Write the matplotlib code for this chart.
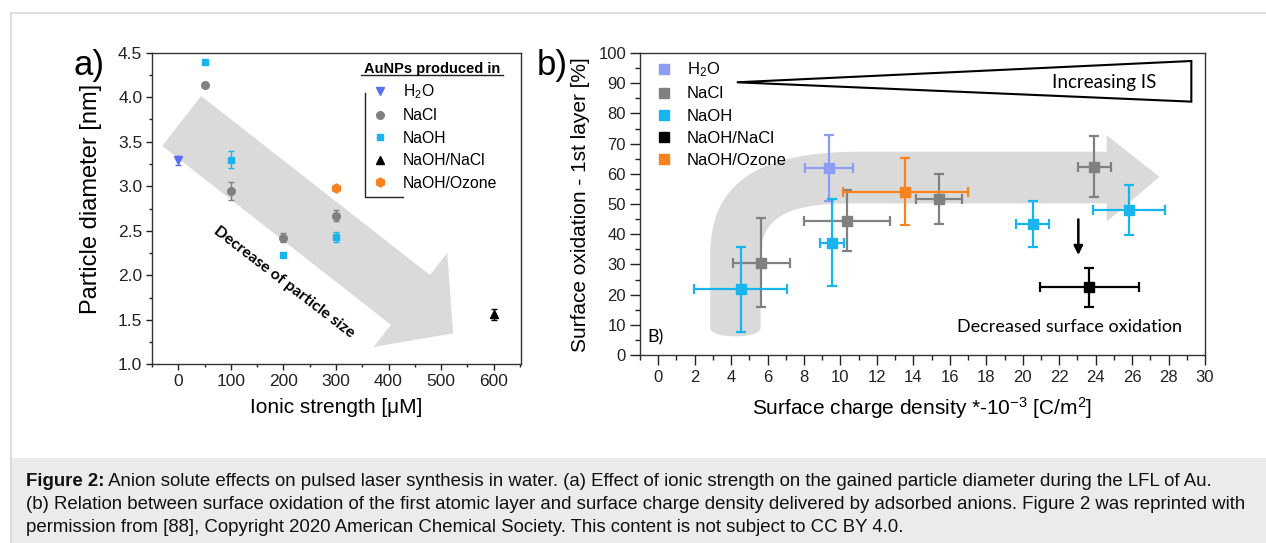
import matplotlib
matplotlib.use("Agg")
import matplotlib.pyplot as plt
from matplotlib.patches import FancyArrowPatch, PathPatch, Polygon, Rectangle
from matplotlib.path import Path
from matplotlib.lines import Line2D
from matplotlib.ticker import MultipleLocator

plt.rcParams['font.family'] = ['Liberation Sans', 'DejaVu Sans']
plt.rcParams['mathtext.fontset'] = 'custom'
plt.rcParams['mathtext.rm'] = 'Liberation Sans'
plt.rcParams['mathtext.it'] = 'Liberation Sans:italic'
plt.rcParams['mathtext.bf'] = 'Liberation Sans:bold'

# ---------------- Panel a data ----------------
a_labels = ["H$_2$O", "NaCl", "NaOH", "NaOH/NaCl", "NaOH/Ozone"]
a_h2o_x = [0]
a_h2o_y = [3.29]
a_h2o_err = [0.05]
a_nacl_x = [50, 100, 200, 300]
a_nacl_y = [4.14, 2.95, 2.42, 2.67]
a_nacl_err = [0.0, 0.10, 0.05, 0.06]
a_naoh_x = [50, 100, 200, 300]
a_naoh_y = [4.40, 3.30, 2.23, 2.43]
a_naoh_err = [0.0, 0.10, 0.0, 0.06]
a_mix_x = [600]
a_mix_y = [1.56]
a_mix_err = [0.06]
a_ozone_x = [300]
a_ozone_y = [2.98]
a_ozone_err = [0.0]
a_xticks = [0, 100, 200, 300, 400, 500, 600]
a_yticks = [1.0, 1.5, 2.0, 2.5, 3.0, 3.5, 4.0, 4.5]

# ---------------- Panel b data ----------------
b_labels = ["H$_2$O", "NaCl", "NaOH", "NaOH/NaCl", "NaOH/Ozone"]
b_h2o_x = [9.36]
b_h2o_y = [61.8]
b_h2o_xerr = [1.3]
b_h2o_yerr = [10.9]
b_nacl_x = [5.66, 10.37, 15.38, 23.92]
b_nacl_y = [30.6, 44.5, 51.7, 62.4]
b_nacl_xerr = [1.58, 2.37, 1.26, 0.91]
b_nacl_yerr = [14.6, 10.0, 8.3, 10.0]
b_naoh_x = [4.53, 9.54, 20.55, 25.83]
b_naoh_y = [21.7, 37.2, 43.4, 48.0]
b_naoh_xerr = [2.55, 0.68, 0.91, 2.0]
b_naoh_yerr = [14.2, 14.4, 7.7, 8.4]
b_mix_x = [23.65]
b_mix_y = [22.4]
b_mix_xerr = [2.72]
b_mix_yerr = [6.4]
b_ozone_x = [13.56]
b_ozone_y = [54.1]
b_ozone_xerr = [3.43]
b_ozone_yerr = [11.0]
b_xticks = list(range(0, 31, 2))
b_yticks = list(range(0, 101, 10))

caption_bold = "Figure 2:"
caption_l1 = " Anion solute effects on pulsed laser synthesis in water. (a) Effect of ionic strength on the gained particle diameter during the LFL of Au."
caption_l2 = "(b) Relation between surface oxidation of the first atomic layer and surface charge density delivered by adsorbed anions. Figure 2 was reprinted with"
caption_l3 = "permission from [88], Copyright 2020 American Chemical Society. This content is not subject to CC BY 4.0."

W, H = 1266, 543
fig = plt.figure(figsize=(W / 100, H / 100), dpi=100)
fig.patch.set_facecolor('white')

# page frame & caption box
fig.add_artist(Rectangle((10 / W, 0), 1 - 10 / W, (543 - 458) / H, transform=fig.transFigure,
                         facecolor='#ebebeb', edgecolor='none', zorder=0))
fig.add_artist(Line2D([10.5 / W, 10.5 / W], [0, (543 - 13) / H], transform=fig.transFigure,
                      color='#d8d8d8', lw=1.2))
fig.add_artist(Line2D([10.5 / W, 1], [(543 - 13) / H, (543 - 13) / H], transform=fig.transFigure,
                      color='#d8d8d8', lw=1.2))

C_H2O_A = '#5a6ff2'
C_H2O_B = '#8c9df2'
C_NACL = '#808080'
C_NAOH = '#17b4ee'
C_MIX = '#000000'
C_OZ = '#f7821e'
ARROW_GRAY = '#dadada'

# ================= Panel a =================
axa = fig.add_axes([152 / W, (543 - 364.3) / H, 369 / W, 311.6 / H])
axa.set_xlim(-50, 652)
axa.set_ylim(1.0, 4.5)

arr = FancyArrowPatch((0.0805, 0.781), (0.816, 0.0995), transform=axa.transAxes,
                      arrowstyle='simple,head_length=39,head_width=86,tail_width=45.5',
                      mutation_scale=1, shrinkA=0, shrinkB=0, color=ARROW_GRAY, lw=0, zorder=0)
axa.add_patch(arr)
axa.text(0.358, 0.265, "Decrease of particle size", transform=axa.transAxes, rotation=-37.5,
         rotation_mode='anchor', ha='center', va='center', fontsize=11.5, fontweight='bold',
         family=['Lato', 'DejaVu Sans'], zorder=1)

ekw = dict(linestyle='none', capsize=2.5, elinewidth=1.0, capthick=1.0, zorder=3)
axa.errorbar(a_h2o_x, a_h2o_y, yerr=a_h2o_err, marker='v', ms=6, color=C_H2O_A, **ekw)
axa.errorbar(a_nacl_x, a_nacl_y, yerr=a_nacl_err, marker='o', ms=5.5, color=C_NACL, **ekw)
axa.errorbar(a_naoh_x, a_naoh_y, yerr=a_naoh_err, marker='s', ms=5, color=C_NAOH, **ekw)
axa.errorbar(a_mix_x, a_mix_y, yerr=a_mix_err, marker='^', ms=5.5, color=C_MIX, **ekw)
axa.errorbar(a_ozone_x, a_ozone_y, yerr=a_ozone_err, marker='h', ms=6.5, color=C_OZ, **ekw)

axa.set_xticks(a_xticks)
axa.set_yticks(a_yticks)
axa.set_yticklabels([f"{v:.1f}" for v in a_yticks])
axa.xaxis.set_minor_locator(MultipleLocator(50))
axa.yaxis.set_minor_locator(MultipleLocator(0.25))
axa.tick_params(which='major', direction='out', length=4, width=1, labelsize=12.5, pad=3, colors='#222222')
axa.tick_params(which='minor', direction='out', length=2.5, width=1, colors='#222222')
axa.tick_params(top=False, right=False, which='both')
for sp in axa.spines.values():
    sp.set_color('#333333')
    sp.set_linewidth(1.0)

axa.set_ylabel("Particle diameter [nm]", fontsize=17, va='center')
axa.yaxis.set_label_coords(-0.165, 0.53)
axa.set_xlabel("Ionic strength [μM]", fontsize=15, va='center')
axa.xaxis.set_label_coords(0.499, -0.138)

hand_a = [
    Line2D([], [], ls='none', marker='v', ms=6, color=C_H2O_A),
    Line2D([], [], ls='none', marker='o', ms=5.5, color=C_NACL),
    Line2D([], [], ls='none', marker='s', ms=5, color=C_NAOH),
    Line2D([], [], ls='none', marker='^', ms=5.5, color=C_MIX),
    Line2D([], [], ls='none', marker='h', ms=6.5, color=C_OZ),
]
leg_a = axa.legend(hand_a, a_labels, loc='upper left', bbox_to_anchor=(0.597, 0.905),
                   frameon=False, fontsize=11.3, handlelength=1.0, handletextpad=0.93,
                   labelspacing=0.47, borderpad=0, borderaxespad=0)
axa.text(0.7585, 0.947, "AuNPs produced in", transform=axa.transAxes, ha='center', va='center',
         fontsize=10.5, fontweight='bold')
axa.plot([0.566, 0.951], [0.929, 0.929], transform=axa.transAxes, color='#222222', lw=1.0, clip_on=False)
axa.plot([0.577, 0.577, 0.681], [0.870, 0.538, 0.538], transform=axa.transAxes, color='#222222', lw=1.0)

fig.text(89 / W, (543 - 65) / H, "a)", fontsize=25, ha='center', va='center')

# ================= Panel b =================
axb = fig.add_axes([640 / W, (543 - 355) / H, 565 / W, 302 / H])
axb.set_xlim(-1, 30)
axb.set_ylim(0, 100)

verts = [
    (2.85, 9), (2.85, 33),
    (2.85, 55), (5.0, 67.3), (11.0, 67.3),
    (24.6, 67.3), (24.6, 72.8), (27.5, 59.0), (24.6, 44.1), (24.6, 50.2), (10.5, 50.2),
    (7.0, 50.2), (5.62, 45), (5.62, 33),
    (5.62, 9),
    (5.62, 5.2), (2.85, 5.2), (2.85, 9),
    (2.85, 9),
]
codes = [Path.MOVETO, Path.LINETO,
         Path.CURVE4, Path.CURVE4, Path.CURVE4,
         Path.LINETO, Path.LINETO, Path.LINETO, Path.LINETO, Path.LINETO, Path.LINETO,
         Path.CURVE4, Path.CURVE4, Path.CURVE4,
         Path.LINETO,
         Path.CURVE4, Path.CURVE4, Path.CURVE4,
         Path.CLOSEPOLY]
axb.add_patch(PathPatch(Path(verts, codes), facecolor=ARROW_GRAY, edgecolor='none', zorder=0))

axb.add_patch(Polygon([(4.31, 90.3), (29.25, 97.35), (29.25, 83.9)], closed=True,
                      facecolor='white', edgecolor='black', lw=1.5, zorder=2))
axb.text(24.45, 90.3, "Increasing IS", ha='center', va='center', fontsize=13.5,
         family=['Lato', 'DejaVu Sans'], zorder=3)
axb.annotate('', xy=(23.05, 33.1), xytext=(23.05, 44.9),
             arrowprops=dict(arrowstyle='-|>', color='black', lw=1.8, mutation_scale=13,
                             shrinkA=0, shrinkB=0))
axb.text(22.59, 9.2, "Decreased surface oxidation", ha='center', va='center', fontsize=13,
         family=['Lato', 'DejaVu Sans'])
axb.text(-0.13, 5.9, "B)", ha='center', va='center', fontsize=13, family=['Lato', 'DejaVu Sans'])

bkw = dict(linestyle='none', marker='s', ms=6.5, capsize=3.5, elinewidth=1.6, capthick=1.6, zorder=4)
axb.errorbar(b_h2o_x, b_h2o_y, xerr=b_h2o_xerr, yerr=b_h2o_yerr, color=C_H2O_B, **bkw)
axb.errorbar(b_nacl_x, b_nacl_y, xerr=b_nacl_xerr, yerr=b_nacl_yerr, color=C_NACL, **bkw)
axb.errorbar(b_naoh_x, b_naoh_y, xerr=b_naoh_xerr, yerr=b_naoh_yerr, color=C_NAOH, **bkw)
axb.errorbar(b_mix_x, b_mix_y, xerr=b_mix_xerr, yerr=b_mix_yerr, color=C_MIX, **bkw)
axb.errorbar(b_ozone_x, b_ozone_y, xerr=b_ozone_xerr, yerr=b_ozone_yerr, color=C_OZ, **bkw)

axb.set_xticks(b_xticks)
axb.set_yticks(b_yticks)
axb.xaxis.set_minor_locator(MultipleLocator(1))
axb.yaxis.set_minor_locator(MultipleLocator(5))
axb.tick_params(which='major', direction='out', length=7, width=1, labelsize=12, colors='#222222')
axb.tick_params(axis='x', which='major', pad=4)
axb.tick_params(axis='y', which='major', pad=3)
axb.tick_params(which='minor', direction='out', length=3.5, width=1, colors='#222222')
axb.tick_params(top=False, right=False, which='both')
for sp in axb.spines.values():
    sp.set_color('#333333')
    sp.set_linewidth(1.0)

axb.set_ylabel("Surface oxidation - 1st layer [%]", fontsize=15, va='center')
axb.yaxis.set_label_coords(-0.105, 0.497)
axb.set_xlabel("Surface charge density *-10$^{-3}$ [C/m$^{2}$]", fontsize=15, va='center')
axb.xaxis.set_label_coords(0.499, -0.175)

hand_b = [Line2D([], [], ls='none', marker='s', ms=6.5, color=c)
          for c in [C_H2O_B, C_NACL, C_NAOH, C_MIX, C_OZ]]
axb.legend(hand_b, b_labels, loc='upper left', bbox_to_anchor=(0.0283, 0.975),
           frameon=False, fontsize=12, handlelength=1.0, handletextpad=0.85,
           labelspacing=0.43, borderpad=0, borderaxespad=0)

fig.text(552 / W, (543 - 65) / H, "b)", fontsize=25, ha='center', va='center')

# ================= Caption =================
cap_fs = 13.4
x0 = 26 / W
t1 = fig.text(x0, (543 - 485.5) / H, caption_bold, fontsize=cap_fs, fontweight='bold',
              va='baseline', ha='left', color='#111111')
fig.canvas.draw()
bb = t1.get_window_extent(renderer=fig.canvas.get_renderer())
fig.text(bb.x1 / W, (543 - 485.5) / H, caption_l1, fontsize=cap_fs, va='baseline', ha='left', color='#111111')
fig.text(x0, (543 - 509) / H, caption_l2, fontsize=cap_fs, va='baseline', ha='left', color='#111111')
fig.text(x0, (543 - 532.5) / H, caption_l3, fontsize=cap_fs, va='baseline', ha='left', color='#111111')

fig.savefig("out.png", dpi=100)
